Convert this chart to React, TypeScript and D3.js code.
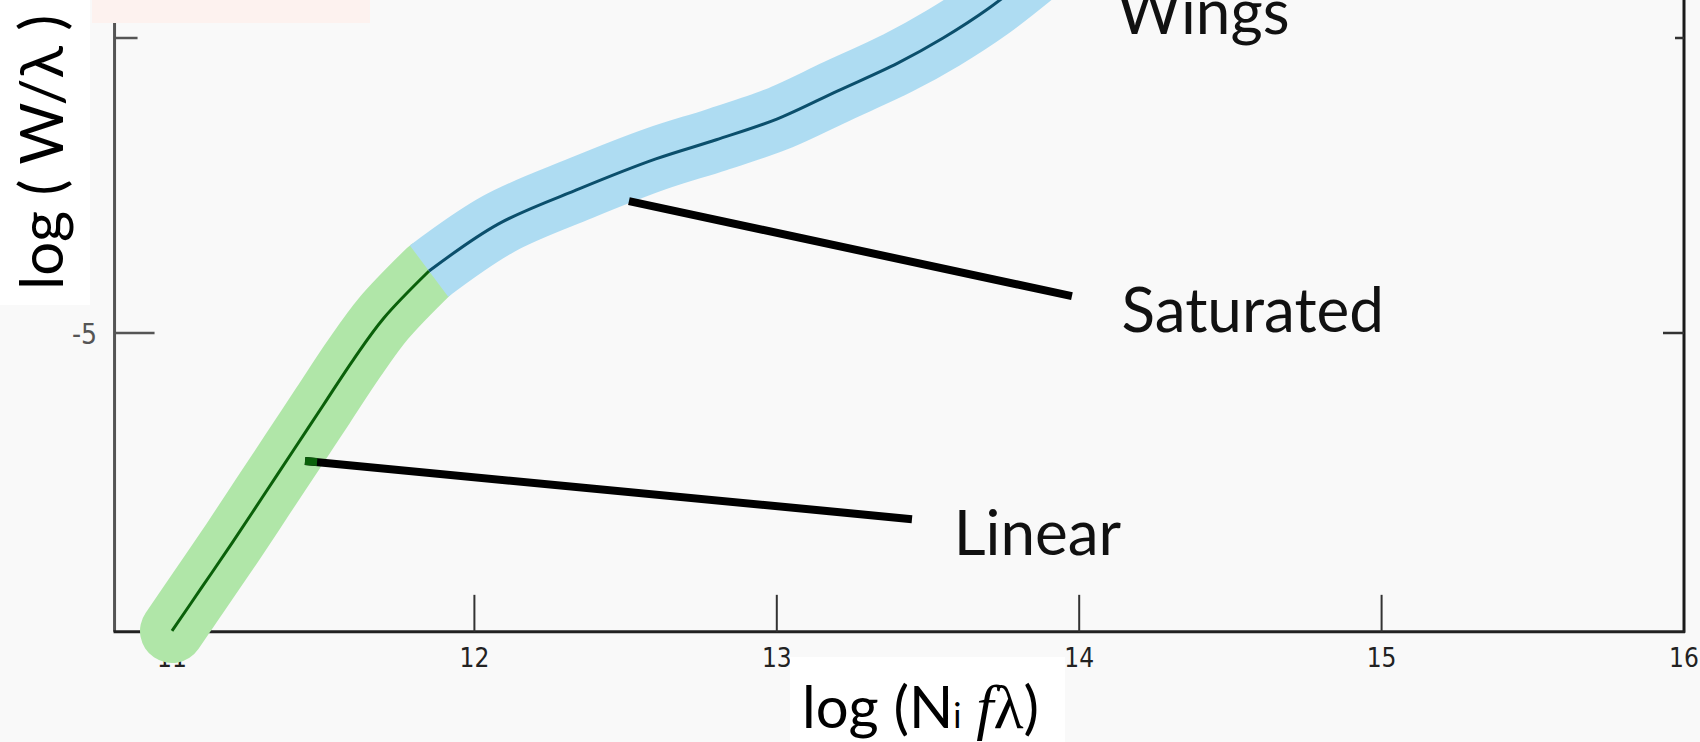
import React from "react";
import * as d3 from "d3";

// Curve of growth: log(N f λ) vs log(W/λ)
const curveLogNf = [11.0, 11.1, 11.2, 11.3, 11.4, 11.5, 11.6, 11.7, 11.85, 12.08, 12.35, 12.6, 12.8, 13.0, 13.2, 13.4, 13.55, 13.7, 13.85];
const curveLogW = [-6.01, -5.86, -5.71, -5.555, -5.4, -5.245, -5.09, -4.95, -4.79, -4.63, -4.51, -4.41, -4.345, -4.275, -4.18, -4.085, -4.0, -3.9, -3.78];
const junctionIndex = 8; // end of linear part, start of saturated part

const xTicks = [11, 12, 13, 14, 15, 16];
const xTickLabels = ["11", "12", "13", "14", "15", "16"];
const yTicks = [-5, -4];
const yTickLabels = ["-5", ""];

// annotations (data coordinates)
const regionLabels = ["Linear", "Saturated", "Wings"];
const labelLogNf = [13.585, 14.14, 14.125];
const labelLogW = [-5.753, -4.997, -3.985];
const pointerFrom = [[11.44, -5.434], [12.511, -4.553]];
const pointerTo = [[13.447, -5.631], [13.976, -4.875]];

const W = 1700;
const H = 742;

export default function App() {
  const x = d3.scaleLinear().domain([11, 16]).range([172, 1684]);
  const y = d3.scaleLinear().domain([-5, -4]).range([333, 38]);
  const xMin = 10.81;
  const yMin = -6.013;

  const pts: [number, number][] = curveLogNf.map((v, i) => [v, curveLogW[i]]);
  const linearPts = pts.slice(0, junctionIndex + 1);
  const satPts = pts.slice(junctionIndex);
  const line = d3
    .line<[number, number]>()
    .x((d) => x(d[0]))
    .y((d) => y(d[1]))
    .curve(d3.curveCatmullRom.alpha(0.5));

  const sans = "Lato, 'Noto Sans', sans-serif";
  const tickFont = "'Liberation Sans Narrow', 'DejaVu Sans Condensed', sans-serif";

  return (
    <svg width={W} height={H} style={{ position: "absolute", left: 0, top: 0, display: "block" }}>
      <rect x={0} y={0} width={W} height={H} fill="#f9f9f9" />

      {/* axes frame */}
      <line x1={x(xMin)} x2={x(xMin)} y1={0} y2={y(yMin)} stroke="#555" strokeWidth={3} />
      <line x1={x(16)} x2={x(16)} y1={0} y2={y(yMin) + 1} stroke="#1a1a1a" strokeWidth={3} />
      <line x1={x(xMin) - 1} x2={x(16) + 1} y1={y(yMin)} y2={y(yMin)} stroke="#222" strokeWidth={3} />

      {/* x ticks */}
      {xTicks.map((t, i) => (
        <g key={"xt" + t}>
          {t < 16 && (
            <line x1={x(t)} x2={x(t)} y1={y(yMin)} y2={y(yMin) - 37} stroke="#333" strokeWidth={2} />
          )}
          <text x={x(t)} y={667} textAnchor="middle" fontFamily={tickFont} fontSize={26} fill="#222">
            {xTickLabels[i]}
          </text>
        </g>
      ))}

      {/* y ticks left & right */}
      {yTicks.map((t, i) => (
        <g key={"yt" + t}>
          <line x1={x(xMin)} x2={x(xMin) + (t === -5 ? 40 : 23)} y1={y(t)} y2={y(t)} stroke="#555" strokeWidth={2.5} />
          <line x1={x(16)} x2={x(16) - (t === -5 ? 21 : 9)} y1={y(t)} y2={y(t)} stroke="#333" strokeWidth={2.5} />
          {yTickLabels[i] && (
            <text x={97} y={y(t) + 11} textAnchor="end" fontFamily={tickFont} fontSize={28} fill="#555">
              {yTickLabels[i]}
            </text>
          )}
        </g>
      ))}

      {/* highlight bands */}
      <path d={line(linearPts) || ""} fill="none" stroke="#b0e6a8" strokeWidth={64} strokeLinecap="round" strokeLinejoin="round" />
      <path d={line(satPts) || ""} fill="none" stroke="#aedcf2" strokeWidth={64} strokeLinecap="butt" strokeLinejoin="round" />

      {/* curve */}
      <path d={line(linearPts) || ""} fill="none" stroke="#0a600a" strokeWidth={3} />
      <path d={line(satPts) || ""} fill="none" stroke="#0b4f6c" strokeWidth={3} />

      {/* pointers */}
      {pointerFrom.map((p, i) => (
        <line
          key={"ptr" + i}
          x1={x(p[0])}
          y1={y(p[1])}
          x2={x(pointerTo[i][0])}
          y2={y(pointerTo[i][1])}
          stroke="#000"
          strokeWidth={8}
        />
      ))}
      <line
        x1={x(pointerFrom[0][0])}
        y1={y(pointerFrom[0][1])}
        x2={x(pointerFrom[0][0]) + 12}
        y2={y(pointerFrom[0][1]) + 1}
        stroke="#0a600a"
        strokeWidth={8}
      />

      {/* region labels */}
      {regionLabels.map((s, i) => (
        <text key={s} x={x(labelLogNf[i])} y={y(labelLogW[i])} fontFamily={sans} fontSize={62} fill="#111">
          {s}
        </text>
      ))}

      {/* pink box top */}
      <rect x={92} y={0} width={278} height={23} fill="#fdf2ef" />

      {/* y label box */}
      <rect x={0} y={0} width={90} height={305} fill="#ffffff" />
      <text transform="translate(63,290) rotate(-90)" fontFamily={sans} fontSize={60} fill="#000">
        log ( W/λ )
      </text>

      {/* x label box */}
      <rect x={790} y={657} width={275} height={85} fill="#ffffff" />
      <text x={802} y={728} fontFamily={sans} fontSize={58} fill="#000">
        log (N
        <tspan fontSize={34}>i</tspan>
        <tspan> </tspan>
        <tspan fontFamily="'Liberation Serif', 'DejaVu Serif', serif" fontStyle="italic" fontSize={62}>f</tspan>
        <tspan fontFamily="'Liberation Serif', 'DejaVu Serif', serif" fontSize={62}>λ</tspan>)
      </text>
    </svg>
  );
}
